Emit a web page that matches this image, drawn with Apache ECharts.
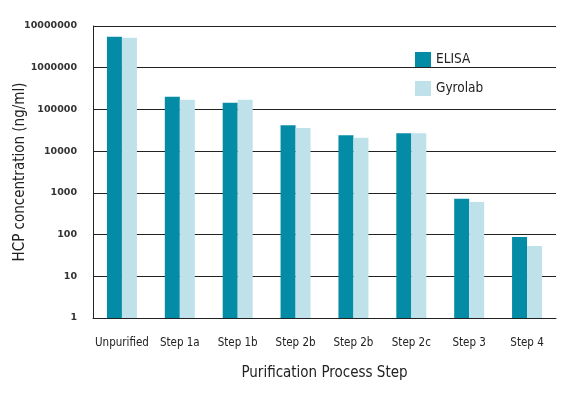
<!DOCTYPE html>
<html>
<head>
<meta charset="utf-8">
<script src="https://cdn.jsdelivr.net/npm/echarts@6/dist/echarts.min.js"></script>
<style>
  html, body { margin: 0; padding: 0; background: #fff; }
  #main { width: 577px; height: 398px; }
</style>
</head>
<body>
<div id="main"></div>
<script>
// categories and values
let steps = ['Unpurified', 'Step 1a', 'Step 1b', 'Step 2b', 'Step 2b', 'Step 2c', 'Step 3', 'Step 4']
let elisa = [5500000, 200000, 144000, 42000, 24000, 27000, 720, 88]
let gyrolab = [5200000, 170000, 170000, 36000, 21000, 27000, 600, 53]

let font = 'DejaVu Sans Condensed, DejaVu Sans, sans-serif'

let chart = echarts.init(document.getElementById('main'))
let option = {
  animation: false,
  textStyle: { fontFamily: font },
  grid: {
    left: 93,
    right: 21,
    top: 26,
    bottom: 80,
    containLabel: false,
    outerBoundsMode: 'none'
  },
  legend: {
    orient: 'vertical',
    left: 410,
    top: 47,
    icon: 'rect',
    itemWidth: 16,
    itemHeight: 15,
    itemGap: 14,
    textStyle: {
      fontFamily: font,
      fontSize: 13.5,
      color: '#222'
    }
  },
  xAxis: {
    type: 'category',
    data: steps,
    name: 'Purification Process Step',
    nameLocation: 'middle',
    nameGap: 48,
    nameMoveOverlap: false,
    nameTextStyle: { fontFamily: font, fontSize: 15, color: '#222' },
    axisLine: { lineStyle: { color: '#222', width: 1 } },
    axisTick: { show: false },
    axisLabel: { interval: 0, fontFamily: font, fontSize: 11.5, color: '#222', margin: 19 }
  },
  yAxis: {
    type: 'log',
    logBase: 10,
    min: 1,
    max: 10000000,
    name: 'HCP concentration (ng/ml)',
    nameLocation: 'middle',
    nameGap: 65,
    nameMoveOverlap: false,
    nameTextStyle: { fontFamily: font, fontSize: 15, color: '#222' },
    axisLine: { show: true, lineStyle: { color: '#222', width: 1 } },
    axisTick: { show: false },
    splitLine: { lineStyle: { color: '#222', width: 1 } },
    axisLabel: {
      fontFamily: 'DejaVu Sans, sans-serif',
      fontSize: 9.5,
      fontWeight: 'bold',
      color: '#333',
      margin: 16,
      formatter: v => String(Math.round(v))
    }
  },
  series: [
    {
      name: 'ELISA',
      type: 'bar',
      data: elisa,
      barWidth: 15,
      barGap: '0%',
      itemStyle: { color: '#048ca6' }
    },
    {
      name: 'Gyrolab',
      type: 'bar',
      data: gyrolab,
      barWidth: 15,
      itemStyle: { color: '#bfe1ea' }
    }
  ]
}
chart.setOption(option)
</script>
</body>
</html>
